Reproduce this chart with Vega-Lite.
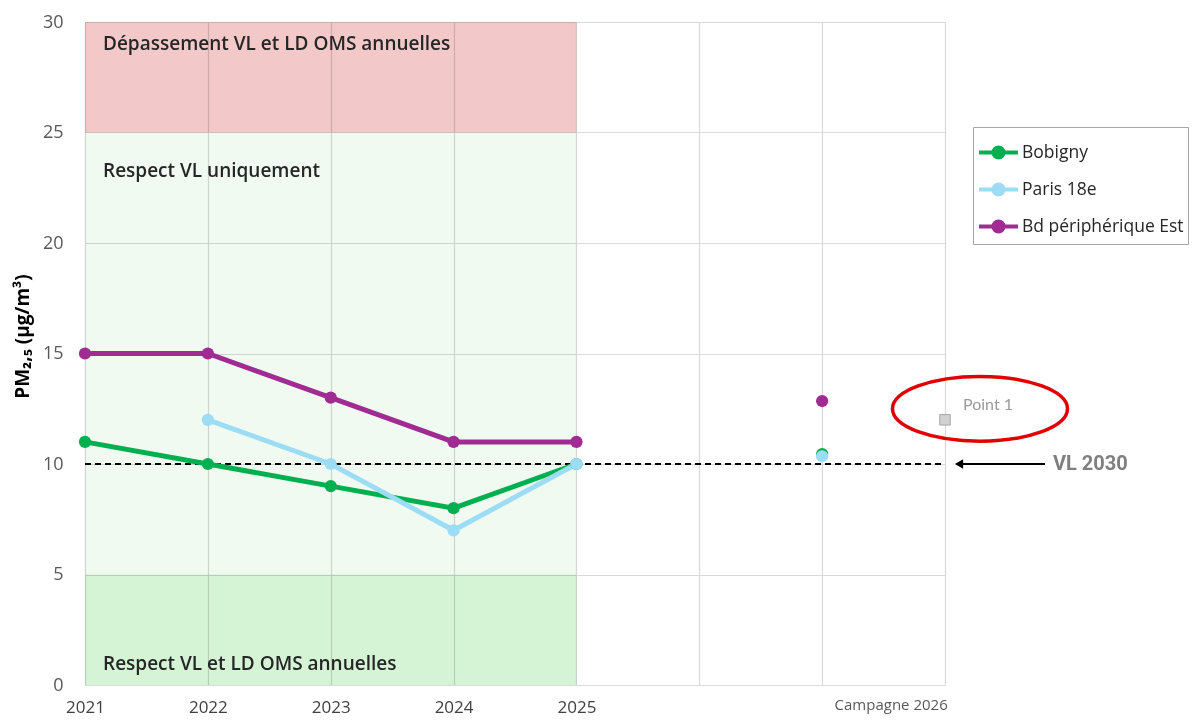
{
  "$schema": "https://vega.github.io/schema/vega-lite/v6.json",
  "width": 860,
  "height": 663,
  "autosize": {"type": "none"},
  "padding": {"left": 85, "top": 22, "right": 255, "bottom": 35},
  "background": "white",
  "config": {
    "view": {"stroke": null},
    "font": "Open Sans",
    "axis": {
      "domain": false,
      "ticks": false,
      "grid": true,
      "gridColor": "#d9d9d9",
      "gridWidth": 1.2,
      "labelFont": "Open Sans",
      "labelFontSize": 18,
      "labelColor": "#595959",
      "labelFlush": false
    }
  },
  "datasets": {
    "bands": [
      {"zone": "Dépassement VL et LD OMS annuelles", "lo": 25, "hi": 30, "ly": 29.0},
      {"zone": "Respect VL uniquement", "lo": 5, "hi": 25, "ly": 23.25},
      {"zone": "Respect VL et LD OMS annuelles", "lo": 0, "hi": 5, "ly": 0.95}
    ],
    "mesures": [
      {"site": "Bobigny", "pos": 0, "periode": "2021", "pm": 11},
      {"site": "Bobigny", "pos": 1, "periode": "2022", "pm": 10},
      {"site": "Bobigny", "pos": 2, "periode": "2023", "pm": 9},
      {"site": "Bobigny", "pos": 3, "periode": "2024", "pm": 8},
      {"site": "Bobigny", "pos": 4, "periode": "2025", "pm": 10},
      {"site": "Bobigny", "pos": 6, "periode": "Campagne 2026", "pm": 10.45},
      {"site": "Paris 18e", "pos": 1, "periode": "2022", "pm": 12},
      {"site": "Paris 18e", "pos": 2, "periode": "2023", "pm": 10},
      {"site": "Paris 18e", "pos": 3, "periode": "2024", "pm": 7},
      {"site": "Paris 18e", "pos": 4, "periode": "2025", "pm": 10},
      {"site": "Paris 18e", "pos": 6, "periode": "Campagne 2026", "pm": 10.35},
      {"site": "Bd périphérique Est", "pos": 0, "periode": "2021", "pm": 15},
      {"site": "Bd périphérique Est", "pos": 1, "periode": "2022", "pm": 15},
      {"site": "Bd périphérique Est", "pos": 2, "periode": "2023", "pm": 13},
      {"site": "Bd périphérique Est", "pos": 3, "periode": "2024", "pm": 11},
      {"site": "Bd périphérique Est", "pos": 4, "periode": "2025", "pm": 11},
      {"site": "Bd périphérique Est", "pos": 6, "periode": "Campagne 2026", "pm": 12.85}
    ],
    "point1": [{"label": "Point 1", "pos": 7, "pm": 12}],
    "seuil": [{"label": "VL 2030", "pm": 10}],
    "campagne": [{"label": "Campagne 2026", "pos": 6}]
  },
  "layer": [
    {
      "data": {"name": "bands"},
      "mark": {"type": "rect", "blend": "multiply"},
      "encoding": {
        "x": {"datum": 0, "type": "quantitative",
          "scale": {"domain": [0, 7], "nice": false, "zero": false},
          "axis": {"values": [0, 1, 2, 3, 4, 5, 6, 7], "title": null, "labelPadding": 14, "labelFontSize": 17, "labelColor": "#404040",
            "labelExpr": "datum.value <= 4 ? '' + (2021 + datum.value) : ''"}},
        "x2": {"datum": 4},
        "y": {"field": "lo", "type": "quantitative",
          "scale": {"domain": [0, 30], "nice": false},
          "axis": {"values": [0, 5, 10, 15, 20, 25, 30], "labelPadding": 22,
            "title": "PM₂,₅ (µg/m³)", "titleFont": "Open Sans", "titleFontSize": 19, "titleFontWeight": "bold",
            "titleColor": "#000000", "titleX": -63, "titleY": 314, "titleAngle": -90,
            "titleAlign": "center", "titleBaseline": "middle"}},
        "y2": {"field": "hi"},
        "fill": {"field": "zone", "type": "nominal", "legend": null,
          "scale": {"domain": ["Dépassement VL et LD OMS annuelles", "Respect VL uniquement", "Respect VL et LD OMS annuelles"],
            "range": ["#f2c8c8", "#f0faf1", "#d5f4d5"]}}
      }
    },
    {
      "data": {"name": "bands"},
      "mark": {"type": "text", "align": "left", "baseline": "middle", "dx": 18, "fontSize": 19, "fontWeight": 600, "color": "#262626", "font": "Open Sans"},
      "encoding": {
        "x": {"datum": 0, "type": "quantitative"},
        "y": {"field": "ly", "type": "quantitative"},
        "text": {"field": "zone"}
      }
    },
    {
      "data": {"name": "seuil"},
      "mark": {"type": "rule", "color": "#000000", "strokeWidth": 2, "strokeDash": [6, 4]},
      "encoding": {
        "x": {"datum": 0, "type": "quantitative"},
        "x2": {"datum": 7},
        "y": {"field": "pm", "type": "quantitative"}
      }
    },
    {
      "data": {"name": "mesures"},
      "transform": [{"filter": "datum.pos <= 4"}],
      "mark": {"type": "line", "strokeWidth": 5},
      "encoding": {
        "x": {"field": "pos", "type": "quantitative"},
        "y": {"field": "pm", "type": "quantitative"},
        "color": {"field": "site", "type": "nominal",
          "scale": {"domain": ["Bobigny", "Paris 18e", "Bd périphérique Est"], "range": ["#00b050", "#9ddcf5", "#a02b93"]},
          "legend": {
            "title": null, "orient": "none", "legendX": 888, "legendY": 105,
            "strokeColor": "#a6a6a6", "fillColor": "#ffffff", "padding": 4,
            "symbolType": "M-1,0L1,0M0.26,0A0.26,0.26,0,1,1,-0.26,0A0.26,0.26,0,1,1,0.26,0Z",
            "symbolSize": 1521, "symbolStrokeWidth": 4, "rowPadding": 2, "labelOffset": 2,
            "labelFont": "Open Sans", "labelFontSize": 17.5, "labelColor": "#262626", "labelLimit": 0,
            "encode": {"symbols": {"update": {"fill": {"scale": "color", "field": "value"}, "stroke": {"scale": "color", "field": "value"}, "opacity": {"value": 1}}}}
          }}
      }
    },
    {
      "data": {"name": "mesures"},
      "mark": {"type": "point", "filled": true, "size": 150, "opacity": 1},
      "encoding": {
        "x": {"field": "pos", "type": "quantitative"},
        "y": {"field": "pm", "type": "quantitative"},
        "color": {"field": "site", "type": "nominal"}
      }
    },
    {
      "data": {"name": "point1"},
      "mark": {"type": "square", "size": 110, "color": "#d0d0d0", "stroke": "#a6a6a6", "strokeWidth": 1, "opacity": 1},
      "encoding": {
        "x": {"field": "pos", "type": "quantitative"},
        "y": {"field": "pm", "type": "quantitative"}
      }
    },
    {
      "data": {"name": "point1"},
      "mark": {"type": "text", "align": "left", "baseline": "middle", "dx": 18, "dy": -15, "fontSize": 16, "color": "#9a9a9a", "font": "Lato"},
      "encoding": {
        "x": {"field": "pos", "type": "quantitative"},
        "y": {"field": "pm", "type": "quantitative"},
        "text": {"field": "label"}
      }
    },
    {
      "data": {"name": "point1"},
      "mark": {"type": "point", "shape": "M-1,0A1,0.37,0,1,0,1,0A1,0.37,0,1,0,-1,0Z", "size": 30625,
        "filled": false, "color": "#e00000", "strokeWidth": 3.5, "opacity": 1, "xOffset": 35, "yOffset": -11},
      "encoding": {
        "x": {"field": "pos", "type": "quantitative"},
        "y": {"field": "pm", "type": "quantitative"}
      }
    },
    {
      "data": {"name": "seuil"},
      "mark": {"type": "rule", "color": "#000000", "strokeWidth": 2, "xOffset": 14, "x2Offset": 100},
      "encoding": {
        "x": {"datum": 7, "type": "quantitative"},
        "x2": {"datum": 7},
        "y": {"field": "pm", "type": "quantitative"}
      }
    },
    {
      "data": {"name": "seuil"},
      "mark": {"type": "point", "shape": "triangle-left", "filled": true, "size": 90, "color": "#000000", "opacity": 1, "xOffset": 14},
      "encoding": {
        "x": {"datum": 7, "type": "quantitative"},
        "y": {"field": "pm", "type": "quantitative"}
      }
    },
    {
      "data": {"name": "seuil"},
      "mark": {"type": "text", "align": "left", "baseline": "middle", "dx": 108, "fontSize": 20, "fontWeight": "bold", "color": "#7f7f7f", "font": "Roboto"},
      "encoding": {
        "x": {"datum": 7, "type": "quantitative"},
        "y": {"field": "pm", "type": "quantitative"},
        "text": {"field": "label"}
      }
    },
    {
      "data": {"name": "campagne"},
      "mark": {"type": "text", "align": "center", "baseline": "middle", "dx": 69, "dy": 20, "fontSize": 15, "color": "#595959", "font": "Open Sans"},
      "encoding": {
        "x": {"field": "pos", "type": "quantitative"},
        "y": {"datum": 0, "type": "quantitative"},
        "text": {"field": "label"}
      }
    }
  ]
}
